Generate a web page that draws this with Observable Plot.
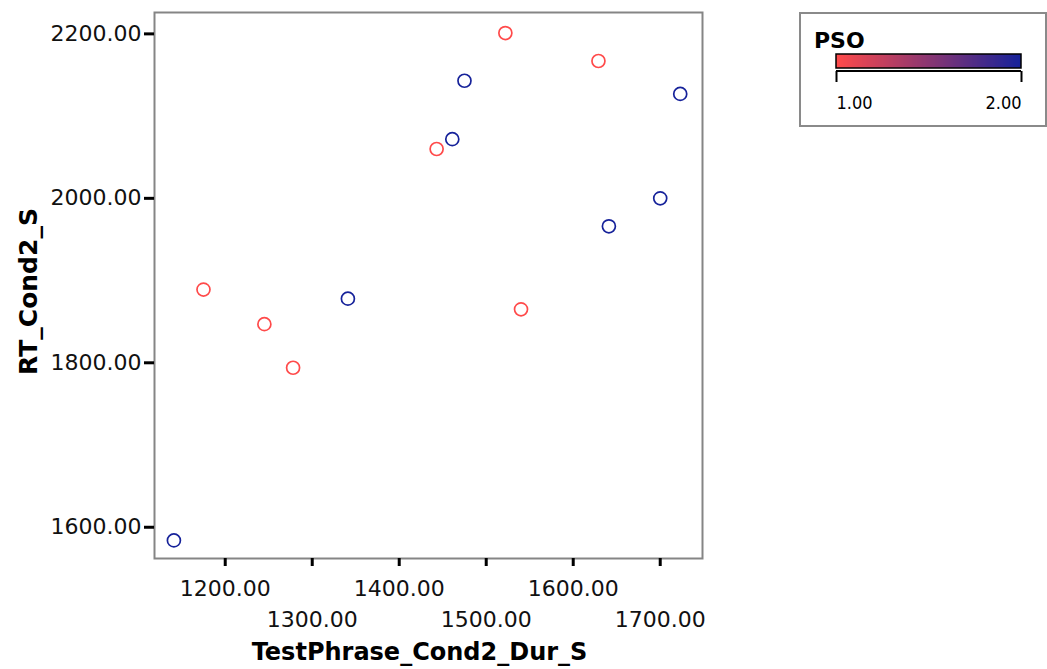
<!DOCTYPE html>
<html><head><meta charset="utf-8">
<script src="https://cdn.jsdelivr.net/npm/d3@7"></script>
<script src="https://cdn.jsdelivr.net/npm/@observablehq/plot@0.6"></script>
<style>
body{margin:0;background:#fff;}
#wrap{position:relative;width:1047px;height:669px;overflow:hidden;}
#legend{position:absolute;left:799px;top:12px;width:244px;height:111px;border:2px solid #8a8a8a;background:#fff;}
#legend svg{display:block;overflow:visible;}
</style></head><body>
<div id="wrap"><div id="chart"></div><div id="legend"></div></div>
<script>
// Data
const durS = [1175, 1245, 1278, 1443, 1522, 1540, 1629, 1141, 1341, 1461, 1475, 1641, 1700, 1723];
const rtS  = [1889, 1847, 1794, 2060, 2201, 1865, 2167, 1584, 1878, 2072, 2143, 1966, 2000, 2127];
const pso  = [1, 1, 1, 1, 1, 1, 1, 2, 2, 2, 2, 2, 2, 2];
const xTicksUpper = [1200, 1400, 1600];
const xTicksLower = [1300, 1500, 1700];
const yTicks = [1600, 1800, 2000, 2200];
const psoTicks = [1, 2];
const xTitle = "TestPhrase_Cond2_Dur_S";
const yTitle = "RT_Cond2_S";
const legendTitle = "PSO";

const data = durS.map((d, i) => ({dur: d, rt: rtS[i], pso: pso[i]}));
const fmt = d3.format(".2f");
const colorOpts = {type: "linear", domain: [1, 2], range: ["#ff4a4a", "#16229a"], interpolate: "rgb"};

const chart = Plot.plot({
  width: 1047, height: 669,
  marginLeft: 154, marginRight: 345, marginTop: 12, marginBottom: 111,
  style: {fontFamily: "DejaVu Sans", fontSize: "22px", color: "#111", background: "#fff"},
  x: {domain: [1118.7, 1748.6]},
  y: {domain: [1562, 2226]},
  color: colorOpts,
  marks: [
    Plot.frame({stroke: "#858585", strokeWidth: 2}),
    Plot.axisY({ticks: yTicks, tickFormat: fmt, tickSize: 10, tickPadding: 3, strokeWidth: 3, stroke: "#000", label: null}),
    Plot.axisX({ticks: xTicksUpper, tickFormat: fmt, tickSize: 8, tickPadding: 14, strokeWidth: 3, stroke: "#000", label: null}),
    Plot.axisX({ticks: xTicksLower, tickFormat: fmt, tickSize: 8, tickPadding: 45, strokeWidth: 3, stroke: "#000", label: null}),
    Plot.dot(data, {x: "dur", y: "rt", stroke: "pso", r: 6.5, strokeWidth: 1.7}),
    Plot.text([yTitle], {frameAnchor: "left", textAnchor: "middle", lineAnchor: "middle", rotate: -90, dx: -126, dy: 6, fontWeight: "bold", fontSize: 25, fill: "#000"}),
    Plot.text([xTitle], {frameAnchor: "bottom", textAnchor: "middle", lineAnchor: "middle", dy: 94, dx: -9, fontWeight: "bold", fontSize: 24, fill: "#000"})
  ]
});
document.getElementById("chart").append(chart);

const leg = Plot.legend({
  color: colorOpts, label: legendTitle, ticks: psoTicks, tickFormat: fmt,
  width: 244, height: 111, marginLeft: 35, marginRight: 24, marginTop: 40, marginBottom: 57, tickSize: 0
});
document.getElementById("legend").append(leg);

const L = d3.select(leg);
L.style("font-family", "DejaVu Sans").style("color", "#000");
const axisG = L.selectAll("g").filter(function(){ return this.querySelector(".tick"); });
axisG.selectAll(".tick line").attr("y1", 3).attr("y2", 14).attr("stroke", "#000").attr("stroke-width", 2);
const texts = axisG.selectAll(".tick text")
  .attr("y", 28).attr("dy", "0.71em")
  .attr("font-family", "Liberation Sans Narrow, DejaVu Sans Condensed, sans-serif")
  .attr("font-size", 18).attr("fill", "#000");
texts.each(function(d, i, n){ d3.select(this).attr("text-anchor", i === 0 ? "start" : (i === n.length - 1 ? "end" : "middle")); });
axisG.append("path").attr("d", "M35,3H220").attr("stroke", "#000").attr("stroke-width", 2).attr("fill", "none");
L.append("rect").attr("x", 35).attr("y", 40).attr("width", 185).attr("height", 14)
  .attr("fill", "none").attr("stroke", "#000").attr("stroke-width", 1.5);
L.selectAll("text").filter(function(){ return this.getAttribute("font-weight") === "bold"; })
  .each(function(){
    const inRoot = this.parentNode === leg;
    d3.select(this).attr("x", 13).attr("y", inRoot ? 34 : 34 - 54)
      .attr("font-size", 22).attr("font-family", "DejaVu Sans").attr("fill", "#000");
  });
</script>
</body></html>
